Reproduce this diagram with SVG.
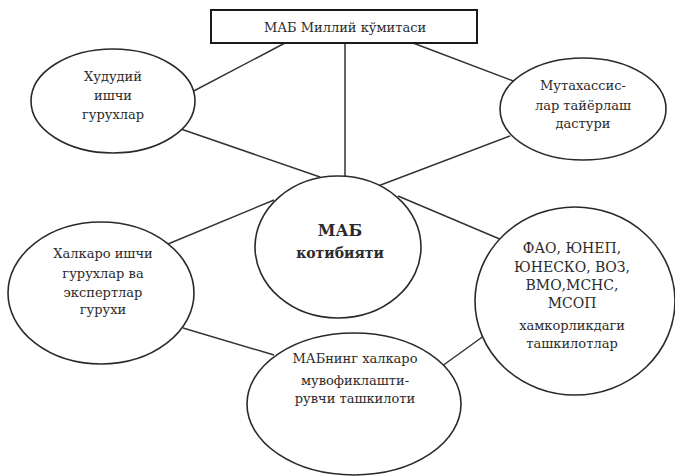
<svg xmlns="http://www.w3.org/2000/svg" width="675" height="476" viewBox="0 0 675 476">
<style>
.bg{fill:#ffffff}
.conn line{stroke:#333;stroke-width:1.5;fill:none}
.shape{fill:#fff;stroke:#2a2a2a;stroke-width:1.6}
.box{fill:#fff;stroke:#1a1a1a;stroke-width:2}
text{font-family:"DejaVu Serif",serif;fill:#2b2b2b;text-anchor:middle;font-size:13px;letter-spacing:0px}
.big{font-size:16px;font-weight:bold}
.mid{font-size:14px}
</style>
<rect class="bg" x="0" y="0" width="675" height="476"/>
<g id="connectors" class="conn">
<line x1="285" y1="43" x2="188" y2="94"/>
<line x1="345" y1="43" x2="345" y2="180"/>
<line x1="413" y1="43" x2="516" y2="82"/>
<line x1="178" y1="128" x2="320" y2="177"/>
<line x1="510" y1="136" x2="378" y2="186"/>
<line x1="168" y1="244" x2="274" y2="200"/>
<line x1="398" y1="196" x2="502" y2="240"/>
<line x1="183" y1="328" x2="274" y2="355"/>
<line x1="438" y1="369" x2="492" y2="330"/>
</g>
<g id="n-top">
<rect class="box" x="211" y="10" width="266" height="33"/>
<text x="345" y="32">МАБ Миллий кўмитаси</text>
</g>
<g id="n-hududiy">
<ellipse class="shape" cx="113" cy="101" rx="82" ry="52"/>
<text x="113" y="81">Худудий</text>
<text x="113" y="100">ишчи</text>
<text x="113" y="119">гурухлар</text>
</g>
<g id="n-mutaxassis">
<ellipse class="shape" cx="583" cy="109" rx="83" ry="51"/>
<text x="583" y="90">Мутахассис-</text>
<text x="583" y="110">лар тайёрлаш</text>
<text x="583" y="128">дастури</text>
</g>
<g id="n-center">
<ellipse class="shape" cx="338" cy="247" rx="83" ry="71"/>
<text class="big" x="340" y="236">МАБ</text>
<text class="mid" x="340" y="258" style="font-weight:bold">котибияти</text>
</g>
<g id="n-halqaro">
<ellipse class="shape" cx="101" cy="293" rx="93" ry="71"/>
<text x="103" y="258">Халкаро ишчи</text>
<text x="103" y="278">гурухлар ва</text>
<text x="103" y="297">экспертлар</text>
<text x="103" y="314">гурухи</text>
</g>
<g id="n-fao">
<ellipse class="shape" cx="575" cy="301" rx="100" ry="94"/>
<text class="mid" x="572" y="253">ФАО, ЮНЕП,</text>
<text class="mid" x="572" y="272">ЮНЕСКО, ВОЗ,</text>
<text class="mid" x="572" y="290">ВМО,МСНС,</text>
<text class="mid" x="572" y="308">МСОП</text>
<text x="572" y="330">хамкорликдаги</text>
<text x="572" y="348">ташкилотлар</text>
</g>
<g id="n-mabning">
<ellipse class="shape" cx="354" cy="404" rx="107" ry="71"/>
<text x="355" y="363">МАБнинг халкаро</text>
<text x="355" y="385">мувофиклашти-</text>
<text x="355" y="403">рувчи ташкилоти</text>
</g>
</svg>
